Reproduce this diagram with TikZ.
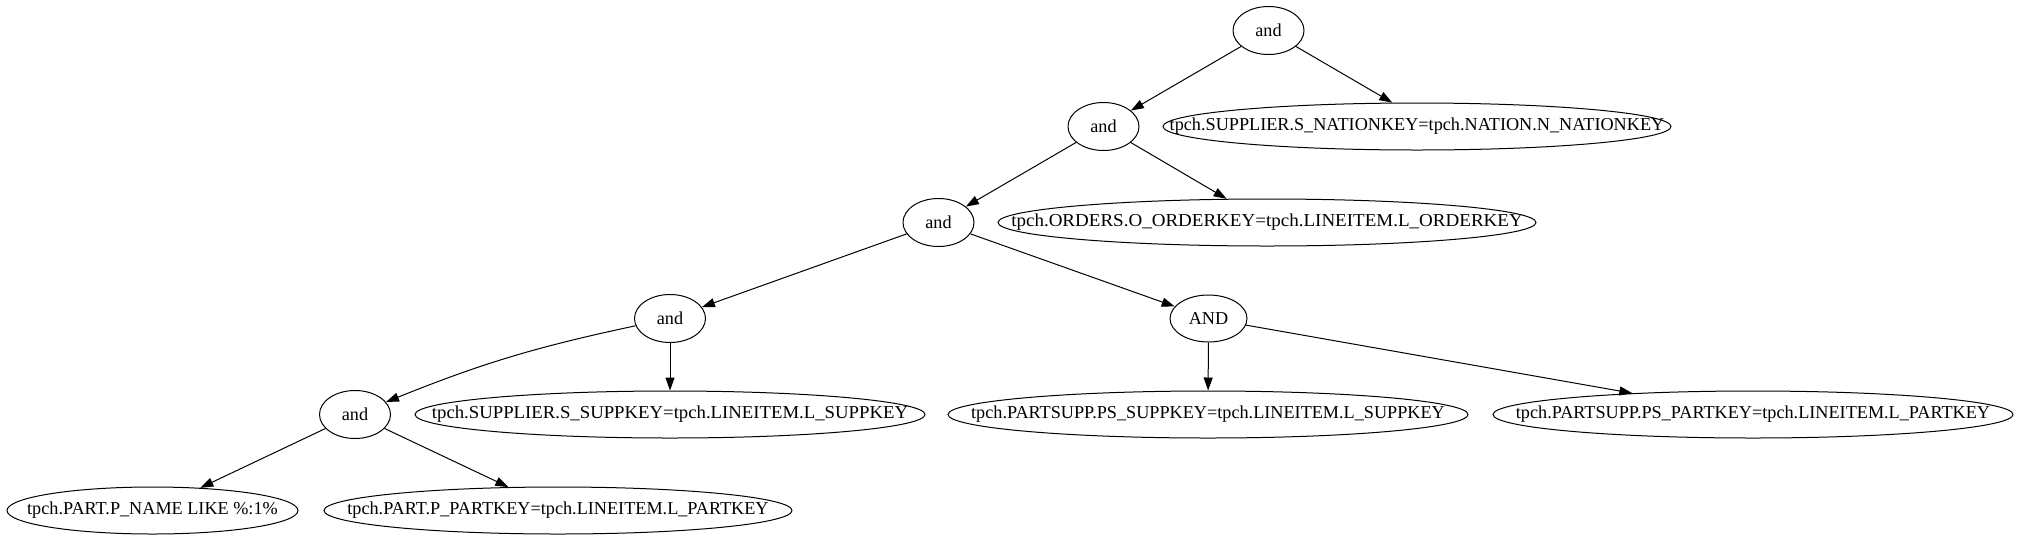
\documentclass[tikz,border=0pt]{standalone}
\usepackage{graphicx}
\usepackage{fontspec}
\setmainfont{Liberation Serif}
\usetikzlibrary{shapes.geometric,arrows.meta}
\begin{document}
\begin{tikzpicture}[x=1pt,y=-1pt,
  every node/.style={font=\fontsize{18.2}{22}\selectfont},
  opnode/.style={draw, ellipse, line width=1pt, minimum width=71pt, minimum height=48pt, inner sep=0pt},
  condnode/.style={draw, ellipse, line width=1pt, minimum height=47pt, inner sep=0pt},
  edgeline/.style={-{Triangle[length=13pt,width=9pt]}, line width=1pt}]
\useasboundingbox (0,0) rectangle (2020,539);

% operator nodes
\node[opnode] (root) at (1268.5,30.5) {and};
\node[opnode] (and2) at (1103.5,126.5) {and};
\node[opnode] (and3) at (938.5,222.5) {and};
\node[opnode] (and4) at (670,318.5) {and};
\node[opnode, minimum width=77pt, minimum height=47pt] (AND) at (1208.5,318.5) {AND};
\node[opnode] (and5) at (355,414.5) {and};

% condition nodes
\node[condnode, minimum width=508pt] (nation) at (1417,126.5) {\makebox[0pt]{tpch.SUPPLIER.S\_NATIONKEY=tpch.NATION.N\_NATIONKEY}};
\node[condnode, minimum width=538pt] (orders) at (1267,222.5) {\makebox[0pt]{\scalebox{1.045}[1]{tpch.ORDERS.O\_ORDERKEY=tpch.LINEITEM.L\_ORDERKEY}}};
\node[condnode, minimum width=510pt] (suppkey) at (670,414.5) {\makebox[0pt]{\scalebox{1.03}[1]{tpch.SUPPLIER.S\_SUPPKEY=tpch.LINEITEM.L\_SUPPKEY}}};
\node[condnode, minimum width=520pt] (pssupp) at (1208,414.5) {\makebox[0pt]{tpch.PARTSUPP.PS\_SUPPKEY=tpch.LINEITEM.L\_SUPPKEY}};
\node[condnode, minimum width=520pt] (pspart) at (1753,414.5) {\makebox[0pt]{tpch.PARTSUPP.PS\_PARTKEY=tpch.LINEITEM.L\_PARTKEY}};
\node[condnode, minimum width=291pt] (pname) at (152.5,510.5) {\makebox[0pt]{tpch.PART.P\_NAME LIKE \%:1\%}};
\node[condnode, minimum width=468pt] (ppartkey) at (558,510.5) {\makebox[0pt]{tpch.PART.P\_PARTKEY=tpch.LINEITEM.L\_PARTKEY}};

% edges
\draw[edgeline] (root) -- (and2);
\draw[edgeline] (root) -- (nation.136);
\draw[edgeline] (and2) -- (and3);
\draw[edgeline] (and2) -- (orders);
\draw[edgeline] (and3) -- (and4);
\draw[edgeline] (and3) -- (AND);
\draw[edgeline] (and4) to[bend right=5] (and5);
\draw[edgeline] (and4) -- (suppkey);
\draw[edgeline] (and5) -- (pname);
\draw[edgeline] (and5) -- (ppartkey);
\draw[edgeline] (AND) -- (pssupp);
\draw[edgeline] (AND) -- (pspart.170);
\end{tikzpicture}
\end{document}
